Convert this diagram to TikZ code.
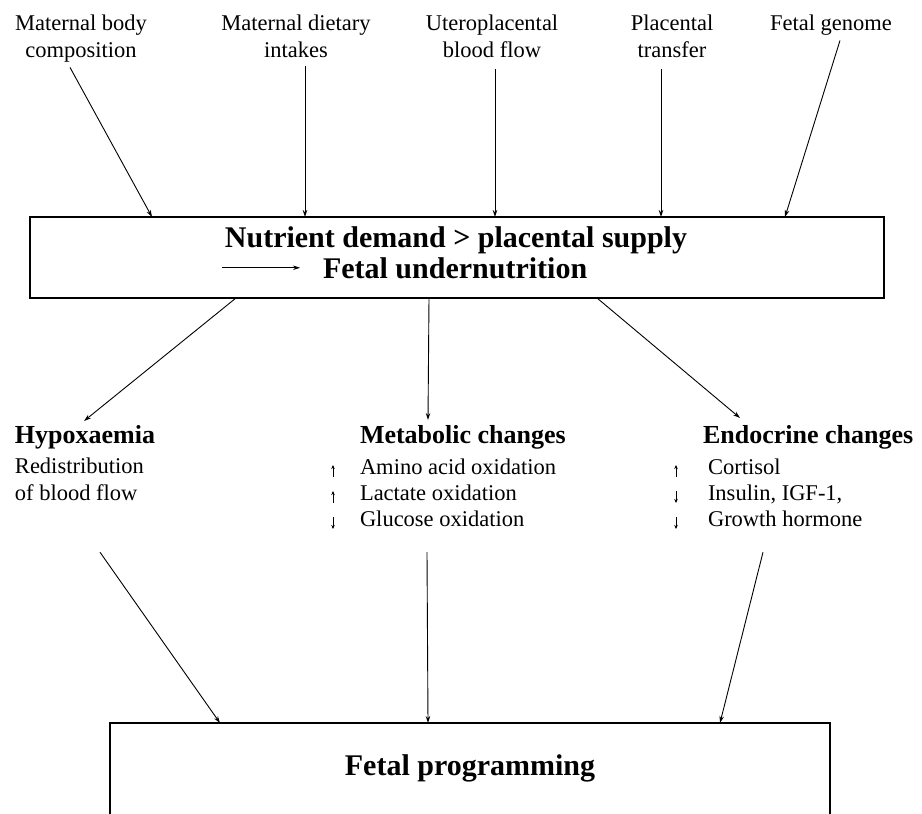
\documentclass[tikz,border=0pt]{standalone}
\usepackage{fontspec}
\setmainfont{Liberation Serif}
\usetikzlibrary{positioning,arrows.meta}
\tikzset{
  every node/.style={
    inner sep=0pt,
    outer sep=0pt
  },
  feed/.style={-{Stealth[length=7pt,width=4.5pt]}, line width=0.9pt},
  rise/.style={-{Stealth[length=4pt,width=3.5pt]}, line width=0.6pt},
  frame/.style={draw, line width=1.4pt},
  cause/.style={align=center, anchor=north, font=\fontsize{22.5}{27}\selectfont},
  heading/.style={anchor=base west, font=\bfseries\fontsize{26}{30}\selectfont},
  entry/.style={font=\fontsize{22.5}{27}\selectfont},
  boxtext/.style={font=\bfseries\fontsize{30}{34}\selectfont}
}

\begin{document}
\begin{tikzpicture}[x=1pt, y=-1pt]
      \clip (0,0) rectangle (922,814);
      % what drives the supply
      \node [cause] (Body) at (81,15) {Maternal body\\composition};
      \node [cause] (Diet) at (296,15) {Maternal dietary\\intakes};
      \node [cause] (Flow) at (492,15) {Uteroplacental\\blood flow};
      \node [cause] (Transfer) at (672,15) {Placental\\transfer};
      \node [cause] (Genome) at (831,15) {Fetal genome};

      \node [frame, minimum width=854pt, minimum height=81pt] (Supply) at (457,257.5) {};
      \node [boxtext, anchor=base] (Demand) at (456,247) {Nutrient demand > placental supply};
      \node [boxtext, anchor=base west] (Under) at (323,278) {Fetal undernutrition};
      \coordinate (Tail) at ([xshift=-101pt]Under.west);
      \draw [feed, line width=0.7pt, shorten >=23pt] (Tail) -- (Under);

      \draw [feed] ([xshift=-11pt,yshift=-5pt]Body.south) -- ([xshift=122pt]Supply.north west);
      \draw [feed] ([xshift=9pt,yshift=-8pt]Diet.south) -- ([xshift=275pt]Supply.north west);
      \draw [feed] ([xshift=3pt,yshift=-11pt]Flow.south) -- ([xshift=465pt]Supply.north west);
      \draw [feed] ([xshift=-11pt,yshift=-11pt]Transfer.south) -- ([xshift=631pt]Supply.north west);
      \draw [feed] ([xshift=9pt,yshift=-5pt]Genome.south) -- ([xshift=755pt]Supply.north west);

      % three kinds of response
      \node [heading] (Hypo) at (15,443) {Hypoxaemia};
      \node [entry, on grid, below=30pt of Hypo.base west, anchor=base west] (Redist) {Redistribution};
      \node [entry, on grid, below=27pt of Redist.base west, anchor=base west] (Blood) {of blood flow};

      \node [heading] (Metab) at (360,443) {Metabolic changes};
      \node [entry, on grid, below=31pt of Metab.base west, anchor=base west] (Amino) {Amino acid oxidation};
      \node [entry, on grid, below=26pt of Amino.base west, anchor=base west] (Lactate) {Lactate oxidation};
      \node [entry, on grid, below=26pt of Lactate.base west, anchor=base west] (Glucose) {Glucose oxidation};
      \draw [rise] ([xshift=-27pt,yshift=-3pt]Amino.base west) -- ++(0,-12);
      \draw [rise] ([xshift=-27pt,yshift=-3pt]Lactate.base west) -- ++(0,-12);
      \draw [rise] ([xshift=-27pt,yshift=9pt]Glucose.base west) -- ++(0,12);

      \node [heading] (Endo) at (703,443) {Endocrine changes};
      \node [entry, on grid, below=31pt of Endo.base west, anchor=base west, xshift=5pt] (Cortisol) {Cortisol};
      \node [entry, on grid, below=26pt of Cortisol.base west, anchor=base west] (Insulin) {Insulin, IGF-1,};
      \node [entry, on grid, below=26pt of Insulin.base west, anchor=base west] (Growth) {Growth hormone};
      \draw [rise] ([xshift=-32pt,yshift=-3pt]Cortisol.base west) -- ++(0,-12);
      \draw [rise] ([xshift=-32pt,yshift=9pt]Insulin.base west) -- ++(0,12);
      \draw [rise] ([xshift=-32pt,yshift=9pt]Growth.base west) -- ++(0,12);

      \draw [feed] ([xshift=206pt]Supply.south west) -- ([xshift=-1pt,yshift=4pt]Hypo.north);
      \draw [feed] ([xshift=399pt]Supply.south west) -- ([xshift=68pt,yshift=5pt]Metab.north west);
      \draw [feed] ([xshift=567pt]Supply.south west) -- ([xshift=37pt,yshift=7pt]Endo.north west);

      % outcome
      \node [frame, minimum width=720pt, minimum height=200pt, anchor=north] (Prog) at (470,723) {};
      \node [boxtext, anchor=base] (ProgText) at (470,775) {Fetal programming};

      \draw [feed] ([xshift=85pt,yshift=-52pt]Blood.south west) -- ([xshift=110pt]Prog.north west);
      \draw [feed] ([xshift=67pt,yshift=-26pt]Glucose.south west) -- ([xshift=318pt]Prog.north west);
      \draw [feed] ([xshift=55pt,yshift=-26pt]Growth.south west) -- ([xshift=610pt]Prog.north west);
\end{tikzpicture}
\end{document}
